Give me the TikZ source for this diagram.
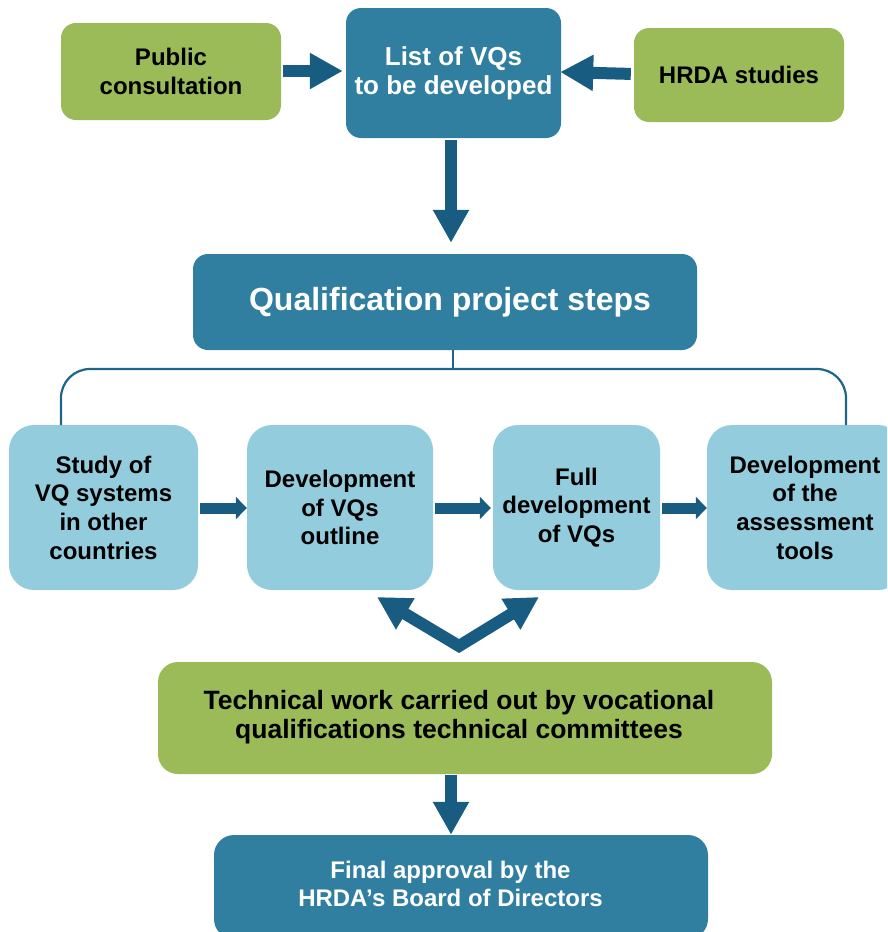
\documentclass[tikz,border=0pt]{standalone}
\usepackage{fontspec}
\setmainfont{Liberation Sans}
\usetikzlibrary{arrows.meta}

\definecolor{boxblue}{HTML}{317FA0}
\definecolor{boxgreen}{HTML}{9BBB59}
\definecolor{boxlight}{HTML}{93CDDD}
\definecolor{arrowblue}{HTML}{185C81}
\definecolor{linkblue}{HTML}{1E6589}

\tikzset{
  base/.style={rectangle, inner sep=0pt, align=center, font=\bfseries},
  greenbox/.style={base, fill=boxgreen, text=black, rounded corners=15pt},
  bluebox/.style={base, fill=boxblue, text=white, rounded corners=15pt},
  stepbox/.style={base, fill=boxlight, text=black, rounded corners=25pt,
    minimum height=165pt, font=\fontsize{24}{28.7}\selectfont\bfseries},
  bigarrow/.style={draw=arrowblue, line width=12pt,
    -{Triangle[length=33pt,width=34pt]}},
  smallarrow/.style={draw=arrowblue, line width=11pt,
    -{Triangle[length=11pt,width=22pt]}},
  bracket/.style={draw=linkblue, line width=2.2pt, rounded corners=29pt}
}

\begin{document}
\begin{tikzpicture}[x=1pt, y=-1pt]
  \useasboundingbox (0,0) rectangle (887,932);
  \clip (0,0) rectangle (887,932);

  % top row
  \node[greenbox, minimum width=220pt, minimum height=97pt,
        font=\fontsize{24}{29}\selectfont\bfseries]
        (pc) at (171,71.5) {Public\\consultation};
  \node[bluebox, minimum width=215pt, minimum height=130pt,
        font=\fontsize{26}{29}\selectfont\bfseries]
        (list) at (453.5,73) {List of VQs\\to be developed};
  \node[greenbox, minimum width=210pt, minimum height=94pt,
        font=\fontsize{24}{29}\selectfont\bfseries]
        (hrda) at (739,75) {HRDA studies};

  % project steps header
  \node[bluebox, minimum width=504pt, minimum height=96pt,
        font=\fontsize{32}{36}\selectfont\bfseries]
        (qps) at (445,302) {\hspace*{10pt}Qualification project steps};

  % the four steps
  \node[stepbox, minimum width=189pt] (s1) at (103.5,507.5)
        {Study of\\VQ systems\\in other\\countries};
  \node[stepbox, minimum width=186pt] (s2) at (340,507.5)
        {Development\\of VQs\\outline};
  \node[stepbox, minimum width=167pt] (s3) at (576.5,507.5)
        {Full\\development\\of VQs};
  \node[stepbox, minimum width=196pt] (s4) at (805,507.5)
        {Development\\of the\\assessment\\tools};

  % technical work and approval
  \node[greenbox, minimum width=614pt, minimum height=112pt,
        rounded corners=20pt, font=\fontsize{26.5}{29}\selectfont\bfseries]
        (tech) at (465,718)
        {\begin{tabular}{@{}c@{}}Technical work carried out by vocational\\
         qualifications technical committees\end{tabular}\hspace*{12pt}};
  \node[bluebox, minimum width=494pt, minimum height=104pt,
        rounded corners=20pt, font=\fontsize{24}{28}\selectfont\bfseries]
        (final) at (461,887)
        {\begin{tabular}{@{}c@{}}Final approval by the\\
         HRDA’s Board of Directors\end{tabular}\hspace*{21pt}};

  % inputs to the list
  \draw[bigarrow, shorten <=2pt, shorten >=3pt]
        (pc.east |- 0,71) -- (list.west |- 0,71);
  \draw[bigarrow, shorten <=3pt, shorten >=-1pt]
        (hrda.west |- 0,74) -- (list.east |- 0,72);
  \draw[bigarrow, shorten <=2pt, shorten >=11pt]
        ([xshift=-2.5pt]list.south) -- ([xshift=-2.5pt]list.south |- qps.north);

  % bracket from the header to the steps
  \coordinate (bl) at (61,425);
  \coordinate (br) at (846,425);
  \coordinate (bm) at (453,369);
  \draw[bracket] (bl) |- (bm) -| (br);
  \draw[draw=linkblue, line width=2.2pt] (qps.south -| bm) -- (bm);

  % step sequence
  \draw[smallarrow, shorten <=2pt] (s1.east |- 0,508) -- (s2.west |- 0,508);
  \draw[smallarrow, shorten <=2pt, shorten >=2pt] (s2.east |- 0,508) -- (s3.west |- 0,508);
  \draw[smallarrow, shorten <=2pt] (s3.east |- 0,508) -- (s4.west |- 0,508);

  % committees feed the two development steps
  \coordinate (vtx) at (459,646);
  \coordinate (tl) at (377,597);
  \coordinate (tr) at (539,597);
  \draw[draw=arrowblue, line width=12pt, line join=miter,
        {Triangle[length=33pt,width=34pt]}-{Triangle[length=33pt,width=34pt]}]
        (tl) -- (vtx) -- (tr);

  % final approval
  \draw[bigarrow, shorten <=1pt]
        ([xshift=-14pt]tech.south) -- ([xshift=-14pt]tech.south |- final.north);
\end{tikzpicture}
\end{document}
